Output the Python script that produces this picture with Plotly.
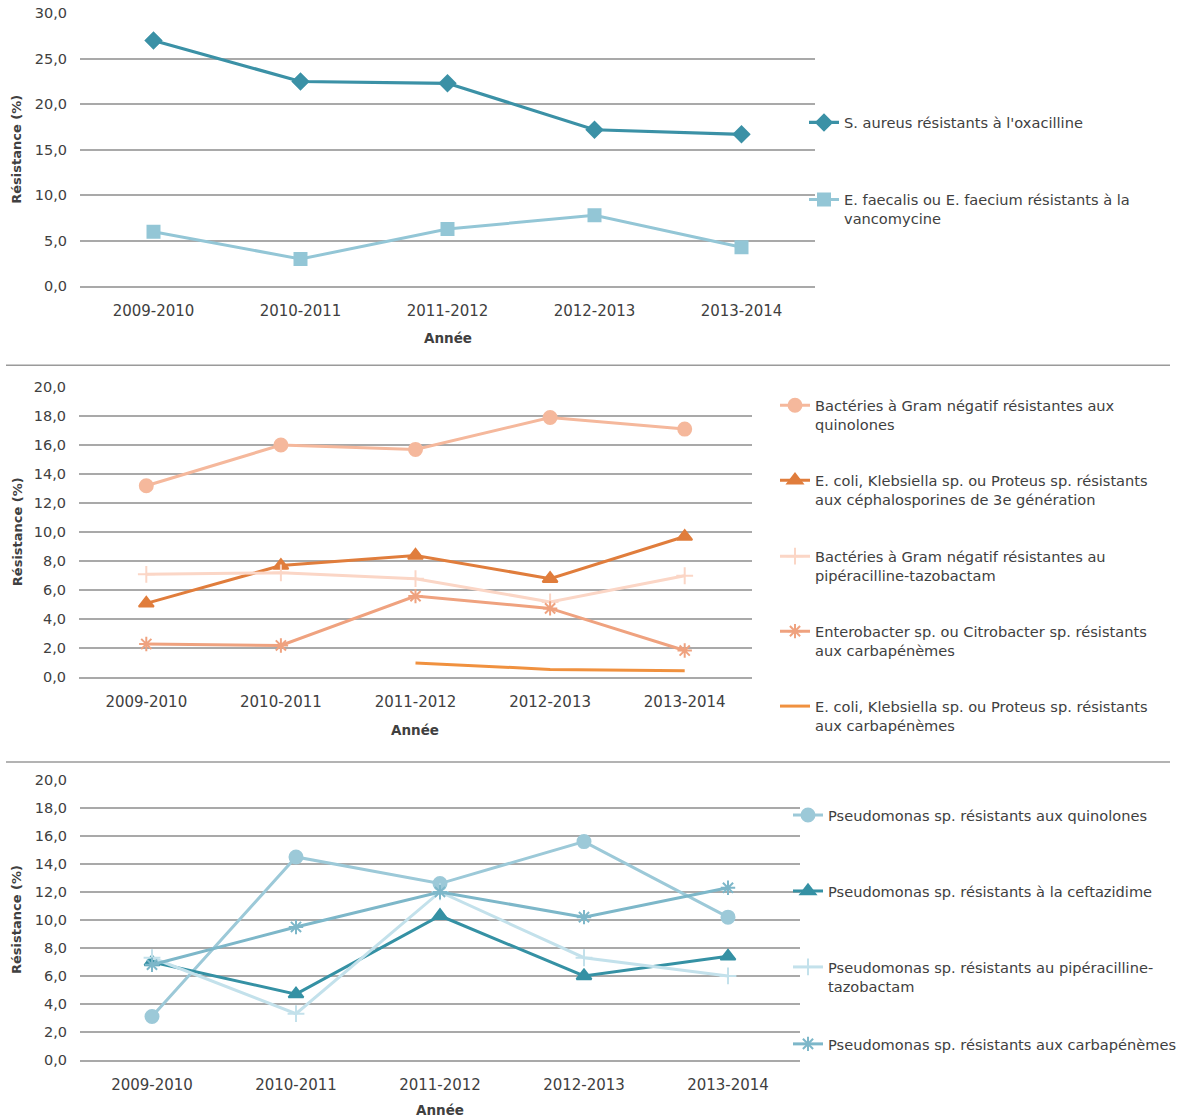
import plotly.graph_objects as go

W, H = 1185, 1120

years = ["2009-2010", "2010-2011", "2011-2012", "2012-2013", "2013-2014"]

# Panel 1 - Gram-positive bacteria
sa_oxa = [27.0, 22.5, 22.3, 17.2, 16.7]
ef_vanco = [6.0, 3.0, 6.3, 7.8, 4.3]

# Panel 2 - Gram-negative bacteria
gn_quino = [13.2, 16.0, 15.7, 17.9, 17.1]
ekp_c3g = [5.1, 7.7, 8.4, 6.8, 9.7]
gn_pipt = [7.1, 7.2, 6.8, 5.2, 7.0]
ec_carba = [2.3, 2.2, 5.6, 4.75, 1.85]
ekp_carba = [None, None, 1.0, 0.55, 0.45]

# Panel 3 - Pseudomonas sp.
ps_quino = [3.1, 14.5, 12.6, 15.6, 10.2]
ps_ceftaz = [7.0, 4.7, 10.3, 6.0, 7.4]
ps_pipt = [7.3, 3.3, 12.0, 7.3, 6.0]
ps_carba = [6.8, 9.5, 12.0, 10.2, 12.3]

FONT = "DejaVu Sans"
TXT = "#404040"
GRID = "#a9a9a9"

# vertical page offset / scale of the rendered page
PAGE_DY, PAGE_SY = 7.5, 0.9863


def px_x(x):
    return x / W


def px_y(y):
    return 1 - ((y - PAGE_DY) / PAGE_SY) / H


# panel geometry in pixels
panels = [
    dict(x0=80, x1=815, y0=286, y1=12.7, ymax=30, dtick=5),
    dict(x0=79, x1=752, y0=677.3, y1=386.7, ymax=20, dtick=2),
    dict(x0=80, x1=800, y0=1060, y1=780, ymax=20, dtick=2),
]

series = [
    # (panel, name, values, color, symbol, msize, lwidth, legend pos px (x, y))
    (1, "S. aureus résistants à l'oxacilline", sa_oxa, "#3b91a6", "diamond", 12, 3.2, (804, 121)),
    (1, "E. faecalis ou E. faecium résistants à la<br>vancomycine", ef_vanco, "#93c6d6", "square", 12, 3.0, (804, 198)),
    (2, "Bactéries à Gram négatif résistantes aux<br>quinolones", gn_quino, "#f5b89c", "circle", 13, 3.0, (775, 404)),
    (2, "E. coli, Klebsiella sp. ou Proteus sp. résistants<br>aux céphalosporines de 3e génération", ekp_c3g, "#e07d3c", "triangle-up", 13, 3.0, (775, 479)),
    (2, "Bactéries à Gram négatif résistantes au<br>pipéracilline-tazobactam", gn_pipt, "#fbd6c6", "cross-thin-open", 12, 3.0, (775, 555)),
    (2, "Enterobacter sp. ou Citrobacter sp. résistants<br>aux carbapénèmes", ec_carba, "#efa27f", "asterisk-open", 12, 3.0, (775, 630)),
    (2, "E. coli, Klebsiella sp. ou Proteus sp. résistants<br>aux carbapénèmes", ekp_carba, "#f0913f", None, 0, 3.0, (775, 705)),
    (3, "Pseudomonas sp. résistants aux quinolones", ps_quino, "#9cc9d8", "circle", 13, 3.0, (788, 814)),
    (3, "Pseudomonas sp. résistants à la ceftazidime", ps_ceftaz, "#3591a4", "triangle-up", 13, 3.0, (788, 890)),
    (3, "Pseudomonas sp. résistants au pipéracilline-<br>tazobactam", ps_pipt, "#c3e1eb", "cross-thin-open", 12, 3.0, (788, 966)),
    (3, "Pseudomonas sp. résistants aux carbapénèmes", ps_carba, "#7db7c9", "asterisk-open", 12, 3.0, (788, 1043)),
]

fig = go.Figure()

layout = dict(
    width=W,
    height=H,
    margin=dict(l=0, r=0, t=0, b=0),
    paper_bgcolor="white",
    plot_bgcolor="white",
    separators=", ",
    font=dict(family=FONT, color=TXT, size=14),
    showlegend=True,
    annotations=[],
    shapes=[],
)

for i, p in enumerate(panels, start=1):
    xa = "xaxis" if i == 1 else f"xaxis{i}"
    ya = "yaxis" if i == 1 else f"yaxis{i}"
    layout[xa] = dict(
        domain=[px_x(p["x0"]), px_x(p["x1"])],
        anchor="y" if i == 1 else f"y{i}",
        type="category",
        categoryorder="array",
        categoryarray=years,
        range=[-0.5, 4.5],
        showgrid=False,
        showline=True,
        linecolor=GRID,
        linewidth=1.6,
        ticks="",
        ticklabelstandoff=10,
        tickfont=dict(family=FONT, size=15, color=TXT),
        fixedrange=True,
    )
    layout[ya] = dict(
        domain=[px_y(p["y0"]), px_y(p["y1"])],
        anchor="x" if i == 1 else f"x{i}",
        range=[0, p["ymax"]],
        dtick=p["dtick"],
        tick0=0,
        tickformat=".1f",
        showgrid=True,
        gridcolor=GRID,
        gridwidth=1.6,
        zeroline=False,
        showline=False,
        ticks="",
        ticklabelstandoff=12,
        tickfont=dict(family=FONT, size=14.5, color=TXT),
        fixedrange=True,
    )
    # y-axis title
    layout["annotations"].append(dict(
        text="<b>Résistance (%)</b>", textangle=-90,
        x=px_x(17), y=px_y((p["y0"] + p["y1"]) / 2),
        xanchor="center", yanchor="middle",
        xref="paper", yref="paper", showarrow=False,
        font=dict(family=FONT, size=13, color=TXT),
    ))

# x-axis titles
for (xc, yc) in [(448, 338), (415, 730), (440, 1110)]:
    layout["annotations"].append(dict(
        text="<b>Année</b>", x=px_x(xc), y=px_y(yc),
        xanchor="center", yanchor="middle",
        xref="paper", yref="paper", showarrow=False,
        font=dict(family=FONT, size=13.5, color=TXT),
    ))

# horizontal separators between the three charts
for ys in [365, 762]:
    layout["shapes"].append(dict(
        type="line", xref="paper", yref="paper",
        x0=px_x(6), x1=px_x(1170), y0=px_y(ys), y1=px_y(ys),
        line=dict(color="#9a9a9a", width=1.5),
    ))

for k, (panel, name, vals, color, symbol, msize, lw, (lx, ly)) in enumerate(series, start=1):
    leg = "legend" if k == 1 else f"legend{k}"
    mode = "lines+markers" if symbol else "lines"
    marker = dict(symbol=symbol, size=msize, color=color,
                  line=dict(color=color, width=2)) if symbol else None
    fig.add_trace(go.Scatter(
        x=years, y=vals, name=name, mode=mode,
        line=dict(color=color, width=lw),
        marker=marker,
        connectgaps=False,
        xaxis="x" if panel == 1 else f"x{panel}",
        yaxis="y" if panel == 1 else f"y{panel}",
        legend=leg,
        hoverinfo="skip",
    ))
    layout[leg] = dict(
        x=px_x(lx), y=px_y(ly - 15), xanchor="left", yanchor="top",
        bgcolor="rgba(0,0,0,0)", borderwidth=0, valign="top",
        font=dict(family=FONT, size=14.6, color=TXT),
        itemwidth=30, tracegroupgap=0,
    )

fig.update_layout(**layout)
fig.write_html("out.html")
